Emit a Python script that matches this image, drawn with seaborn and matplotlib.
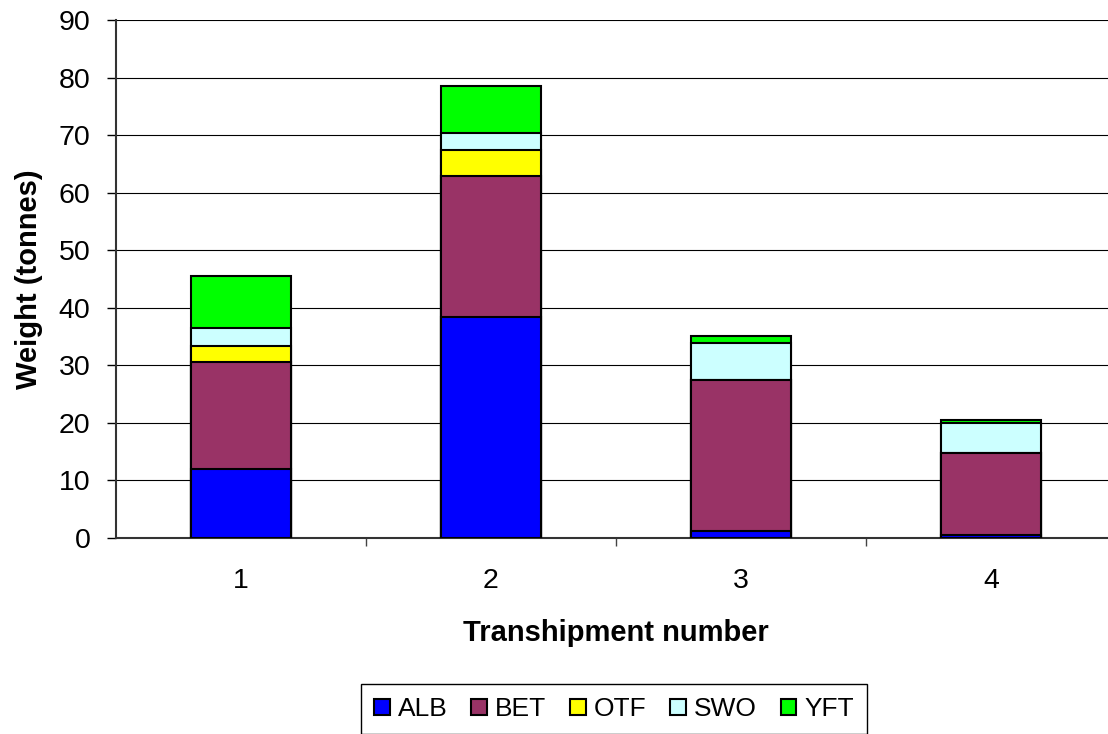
import matplotlib
matplotlib.use("Agg")
import matplotlib.pyplot as plt
import pandas as pd
import seaborn as sns
from matplotlib.patches import Patch

# data (tonnes)
transhipments = ["1", "2", "3", "4"]
species = ["ALB", "BET", "OTF", "SWO", "YFT"]
alb = [11.9, 38.4, 1.2, 0.5]
bet = [18.7, 24.5, 26.3, 14.3]
otf = [2.8, 4.6, 0.0, 0.0]
swo = [3.0, 2.9, 6.3, 5.1]
yft = [9.2, 8.2, 1.2, 0.6]
colors = ["#0000FF", "#993366", "#FFFF00", "#CCFFFF", "#00FF00"]

sns.set_style("white")
plt.rcParams["font.family"] = ["Liberation Sans", "DejaVu Sans"]
plt.rcParams["text.color"] = "black"
plt.rcParams["axes.labelcolor"] = "black"
plt.rcParams["xtick.color"] = "black"
plt.rcParams["ytick.color"] = "black"

df = pd.DataFrame({"ALB": alb, "BET": bet, "OTF": otf, "SWO": swo, "YFT": yft},
                  index=transhipments)
cum = df.cumsum(axis=1)

W, H = 1108, 734
fig = plt.figure(figsize=(W / 100, H / 100), dpi=100)
ax = fig.add_axes([116 / W, 1 - 537.7 / H, 1000 / W, 517.5 / H])

# stacked bars: draw cumulative totals from the top layer down
for sp, col in reversed(list(zip(species, colors))):
    sns.barplot(x=transhipments, y=cum[sp].values, color=col, saturation=1,
                width=0.4, edgecolor="black", linewidth=1.5, errorbar=None,
                ax=ax, zorder=3)

ax.set_xlim(-0.5, 3.5)
ax.set_ylim(0, 90)
ax.set_yticks(range(0, 91, 10))
ax.yaxis.grid(True, color="black", linewidth=0.8)
ax.xaxis.grid(False)
ax.set_axisbelow(True)

ax.set_xticks(range(4))
ax.set_xticklabels(transhipments)
ax.set_xticks([0.5, 1.5, 2.5], minor=True)
ax.tick_params(axis="x", which="major", length=0, labelsize=20.5, pad=22,
               labelcolor="black")
ax.tick_params(axis="x", which="minor", bottom=True, direction="out",
               length=6, width=1, color="#444444")
ax.tick_params(axis="y", left=True, direction="out", length=6.5, width=1,
               color="black", labelsize=20.5, pad=12, labelcolor="black")

for s in ["top", "right"]:
    ax.spines[s].set_visible(False)
for s in ["left", "bottom"]:
    ax.spines[s].set_color("#333333")
    ax.spines[s].set_linewidth(1.5)

ax.set_xlabel("Transhipment number", fontsize=21, fontweight="bold",
              labelpad=18, color="black")
ax.set_ylabel("Weight (tonnes)", fontsize=21, fontweight="bold",
              labelpad=11, color="black")

handles = [Patch(facecolor=c, edgecolor="black", linewidth=1.5, label=s)
           for s, c in zip(species, colors)]
leg = fig.legend(handles=handles, loc="upper center",
                 bbox_to_anchor=(614 / W, 1 - 684 / H), ncol=5, fontsize=19,
                 frameon=True, fancybox=False, edgecolor="black", framealpha=1,
                 handlelength=0.6, handleheight=0.6, handletextpad=0.3,
                 columnspacing=0.9, borderpad=0.5, borderaxespad=0)
leg.get_frame().set_linewidth(1)

fig.savefig("out.png", dpi=100)
